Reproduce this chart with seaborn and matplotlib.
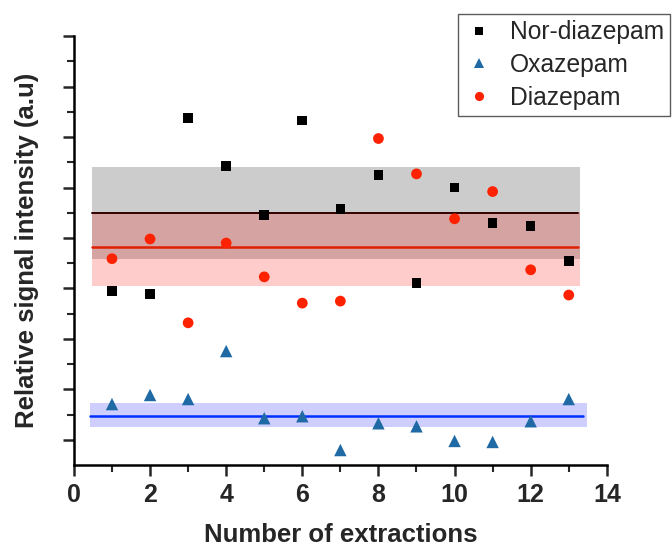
import matplotlib

matplotlib.use("Agg")
import matplotlib.pyplot as plt
from matplotlib.ticker import MultipleLocator
import numpy as np
import pandas as pd
import seaborn as sns

# ---------------------------------------------------------------------------
# Data (arbitrary intensity units)
# ---------------------------------------------------------------------------
extractions = list(range(1, 14))
nor_diazepam = [3.45, 3.39, 6.88, 5.93, 4.96, 6.83, 5.08, 5.75, 3.61, 5.50, 4.80, 4.74, 4.05]
oxazepam = [1.21, 1.39, 1.31, 2.26, 0.93, 0.97, 0.30, 0.83, 0.77, 0.48, 0.46, 0.87, 1.31]
diazepam = [4.09, 4.48, 2.82, 4.40, 3.73, 3.21, 3.25, 6.47, 5.77, 4.88, 5.42, 3.87, 3.37]

compounds = ["Nor-diazepam", "Oxazepam", "Diazepam"]
# mean line and +/- band for each compound
means = {"Nor-diazepam": 5.00, "Oxazepam": 0.97, "Diazepam": 4.33}
band_lo = {"Nor-diazepam": 4.09, "Oxazepam": 0.75, "Diazepam": 3.55}
band_hi = {"Nor-diazepam": 5.91, "Oxazepam": 1.23, "Diazepam": 5.02}

df = pd.DataFrame({
    "extraction": extractions * 3,
    "signal": nor_diazepam + oxazepam + diazepam,
    "compound": np.repeat(compounds, len(extractions)),
})

sns.set_theme(style="ticks")
plt.rcParams["font.family"] = ["Liberation Sans", "DejaVu Sans"]

palette = {"Nor-diazepam": "#000000", "Oxazepam": "#1f6aa5", "Diazepam": "#ff2200"}
markers = {"Nor-diazepam": "s", "Oxazepam": "^", "Diazepam": "o"}
sizes = {"Nor-diazepam": 48, "Oxazepam": 80, "Diazepam": 60}

fig = plt.figure(figsize=(6.72, 5.46), dpi=100)
ax = fig.add_axes([0.110, 0.148, 0.793, 0.786])

# bands (drawn first so markers sit on top)
ax.fill_between([0.47, 13.29], band_lo["Nor-diazepam"], band_hi["Nor-diazepam"],
                color="#cccccc", lw=0, zorder=1)
ax.fill_between([0.47, 13.29], band_lo["Diazepam"], band_hi["Diazepam"],
                color="#ff0000", alpha=0.2, lw=0, zorder=1)
ax.fill_between([0.42, 13.47], band_lo["Oxazepam"], band_hi["Oxazepam"],
                color="#2222ff", alpha=0.22, lw=0, zorder=1)

ax.plot([0.47, 13.25], [means["Nor-diazepam"]] * 2, color="#330000", lw=1.4, zorder=2)
ax.plot([0.47, 13.25], [means["Diazepam"]] * 2, color="#e02000", lw=1.8, zorder=2)
ax.plot([0.42, 13.37], [means["Oxazepam"]] * 2, color="#0030ff", lw=1.8, zorder=2)

sns.scatterplot(
    data=df, x="extraction", y="signal", hue="compound", style="compound",
    size="compound", hue_order=compounds, style_order=compounds, size_order=compounds,
    palette=palette, markers=markers, sizes=sizes, linewidth=0, ax=ax, zorder=3,
)

ax.set_xlim(0, 14)
ax.set_ylim(0, 8.5)
ax.xaxis.set_major_locator(MultipleLocator(2))
ax.xaxis.set_minor_locator(MultipleLocator(1))
ax.set_yticks(np.arange(0.5, 8.6, 1.0))
ax.set_yticks(np.arange(1.0, 8.1, 1.0), minor=True)
ax.set_yticklabels([])
ax.tick_params(axis="both", which="major", length=8, width=1.8, direction="out", pad=5)
ax.tick_params(axis="both", which="minor", length=5, width=1.5, direction="out")
for lab in ax.get_xticklabels():
    lab.set_fontweight("bold")
    lab.set_fontsize(18)

sns.despine(ax=ax)
for side in ["left", "bottom"]:
    ax.spines[side].set_linewidth(1.8)
    ax.spines[side].set_color("black")

ax.set_xlabel("Number of extractions", fontsize=18.5, fontweight="bold", labelpad=11)
ax.set_ylabel("Relative signal intensity (a.u)", fontsize=18.5, fontweight="bold", labelpad=12)

# legend box runs past the right edge of the figure, as in the source
leg = ax.legend(
    loc="upper left", bbox_to_anchor=(458 / 672, 1 - 14 / 546),
    bbox_transform=fig.transFigure, borderaxespad=0, fontsize=17.7, frameon=True,
    fancybox=False, edgecolor="#333333", handletextpad=0.65, borderpad=0.25,
    labelspacing=0.36, handlelength=1.2, markerscale=0.85,
)
leg.get_frame().set_linewidth(1.0)

fig.savefig("out.png", dpi=100)
